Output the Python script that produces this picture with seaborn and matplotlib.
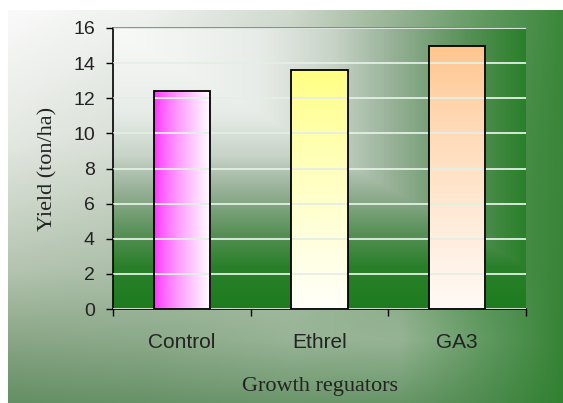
import numpy as np
import matplotlib
matplotlib.use("Agg")
import matplotlib.pyplot as plt
from matplotlib.colors import LinearSegmentedColormap, to_rgb
import seaborn as sns

# ---- data ----
treatments = ["Control", "Ethrel", "GA3"]
yield_t_ha = [12.4, 13.6, 15.0]
y_ticks = [0, 2, 4, 6, 8, 10, 12, 14, 16]
x_title = "Growth reguators"
y_title = "Yield (ton/ha)"

# gradient fill of each bar: start colour, end colour, direction
bar_start = ["#ff2cff", "#ffff80", "#ffc48c"]
bar_end = ["#ffffff", "#fffffa", "#fffaf6"]
bar_dir = ["horizontal", "vertical", "vertical"]

sns.set_theme(style="white")
plt.rcParams["font.family"] = ["Liberation Sans", "DejaVu Sans"]
serif = ["Liberation Serif", "DejaVu Serif"]
ink = "#232323"

W, H = 563, 403
fig = plt.figure(figsize=(W / 100, H / 100), dpi=100)
fig.patch.set_facecolor("white")


def bilinear(xs, ys, grid, nx, ny):
    grid = np.asarray(grid, float) / 255.0
    fx = np.linspace(xs[0], xs[-1], nx)
    fy = np.linspace(ys[0], ys[-1], ny)
    rows = np.empty((len(ys), nx, 3))
    for i in range(len(ys)):
        for c in range(3):
            rows[i, :, c] = np.interp(fx, xs, grid[i, :, c])
    out = np.empty((ny, nx, 3))
    for j in range(nx):
        for c in range(3):
            out[:, j, c] = np.interp(fy, ys, rows[:, j, c])
    return out


# ---- chart-area backdrop (light top-left, green towards the right) ----
bx = [8, 150, 290, 400, 480, 563]
by = [10, 140, 270, 340, 403]
bcol = [
    [[250, 250, 250], [238, 241, 238], [208, 218, 206], [150, 178, 148], [100, 155, 100], [60, 135, 60]],
    [[228, 232, 226], [215, 222, 212], [185, 200, 183], [130, 165, 128], [85, 148, 85], [58, 134, 58]],
    [[180, 196, 176], [170, 190, 168], [165, 188, 162], [130, 168, 128], [85, 148, 85], [56, 132, 56]],
    [[138, 166, 134], [140, 170, 138], [152, 180, 150], [150, 180, 148], [100, 155, 100], [55, 131, 55]],
    [[100, 143, 100], [104, 146, 104], [108, 150, 108], [104, 150, 104], [80, 140, 80], [50, 129, 50]],
]
bg_img = bilinear(bx, by, bcol, 300, 220)
bg = fig.add_axes([bx[0] / W, 1 - by[-1] / H, (bx[-1] - bx[0]) / W, (by[-1] - by[0]) / H], zorder=0)
bg.imshow(bg_img, aspect="auto", extent=(0, 1, 0, 1), interpolation="bilinear")
bg.set_axis_off()

# ---- plot area ----
left, right, top, bottom = 113, 526, 28, 309
ax = fig.add_axes([left / W, 1 - bottom / H, (right - left) / W, (bottom - top) / H], zorder=1)

sns.barplot(x=treatments, y=yield_t_ha, width=0.41, ax=ax,
            edgecolor="black", linewidth=1.3, facecolor="none", zorder=3)

# corner gradient filling the plot area (row 0 = top edge)
pa_cmap = LinearSegmentedColormap.from_list("pa", [
    (0.0, np.array([248, 250, 248]) / 255),
    (0.30, np.array([232, 236, 232]) / 255),
    (0.45, np.array([200, 212, 200]) / 255),
    (0.58, np.array([150, 176, 150]) / 255),
    (0.72, np.array([92, 146, 92]) / 255),
    (0.85, np.array([42, 128, 42]) / 255),
    (1.0, np.array([30, 124, 30]) / 255),
])
u = np.linspace(0, 1, 300)[None, :]
v = np.linspace(0, 1, 220)[:, None]
t = np.maximum(0.85 * u, v)
ax.imshow(t, cmap=pa_cmap, vmin=0, vmax=1, aspect="auto",
          extent=(-0.5, 2.5, 0, 16), origin="upper", zorder=0, interpolation="bilinear")

# gradient fill inside each bar (row 0 = top of bar)
for patch, c0, c1, d in zip(ax.patches, bar_start, bar_end, bar_dir):
    x0, y0 = patch.get_x(), patch.get_y()
    w, h = patch.get_width(), patch.get_height()
    cm = LinearSegmentedColormap.from_list("bar", [to_rgb(c0), to_rgb(c1)])
    if d == "horizontal":
        grad = np.linspace(0, 1, 200)[None, :] ** 0.75
    else:
        grad = np.linspace(0, 1, 200)[:, None] ** 0.8
    im = ax.imshow(grad, cmap=cm, vmin=0, vmax=1, aspect="auto",
                   extent=(x0, x0 + w, y0, y0 + h), origin="upper", zorder=2)
    im.set_clip_path(patch)
    patch.set_zorder(3)
ax.set_xlim(-0.5, 2.5)
ax.set_ylim(0, 16)

# horizontal gridlines
ax.set_yticks(y_ticks)
ax.grid(axis="y", color="#e4efe4", linewidth=1.3, zorder=1)
ax.grid(axis="x", visible=False)
ax.set_axisbelow(False)
for gl in ax.get_ygridlines():
    gl.set_zorder(1)

# spines
for s in ["left", "bottom"]:
    ax.spines[s].set_color("black")
    ax.spines[s].set_linewidth(1.2)
ax.spines["top"].set_color("#808080")
ax.spines["top"].set_linewidth(1.2)
ax.spines["right"].set_visible(False)

# ticks and labels
ax.tick_params(axis="y", direction="out", length=5, width=1, color="black",
               pad=8, labelsize=14, labelcolor=ink, left=True)
ax.set_xticks([0, 1, 2], labels=treatments)
ax.set_xticks([-0.5, 0.5, 1.5, 2.5], minor=True)
ax.tick_params(axis="x", which="major", length=0, pad=17, labelsize=15, labelcolor=ink)
ax.tick_params(axis="x", which="minor", direction="out", length=5, width=1,
               color="black", bottom=True)

ax.set_xlabel(x_title, fontfamily=serif, fontsize=16, color=ink, labelpad=18)
ax.set_ylabel(y_title, fontfamily=serif, fontsize=16, color=ink, labelpad=11)

fig.savefig("out.png", dpi=100, facecolor=fig.get_facecolor())
